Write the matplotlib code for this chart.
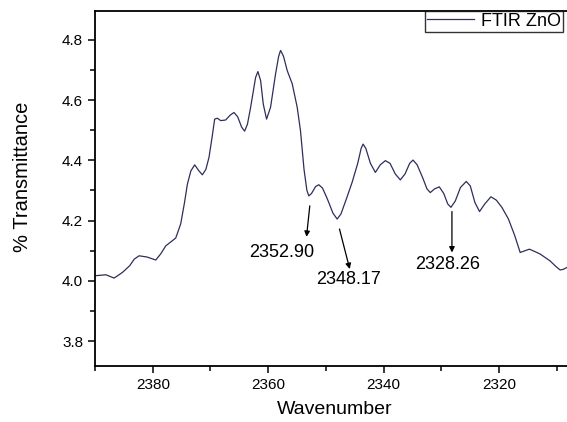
import matplotlib
matplotlib.use("Agg")
import matplotlib.pyplot as plt

plt.rcParams['font.family'] = ['Liberation Sans', 'DejaVu Sans']

# FTIR spectrum (wavenumber, % transmittance)
wavenumber = [2389.86, 2388.13, 2386.69, 2385.24, 2384.0, 2383.2, 2382.37,
              2381.0, 2379.48, 2378.6, 2377.75, 2376.02, 2375.16, 2374.5,
              2374.0, 2373.4, 2372.74, 2372.0, 2371.41, 2370.8, 2370.26,
              2369.7, 2369.28, 2368.8, 2368.24, 2367.38, 2366.6, 2365.94,
              2365.3, 2364.6, 2364.09, 2363.6, 2363.05, 2362.19, 2361.79,
              2361.32, 2360.86, 2360.29, 2359.6, 2358.73, 2358.2, 2357.87,
              2357.5, 2357.3, 2356.71, 2355.84, 2354.98, 2354.41, 2353.8,
              2353.3, 2352.97, 2352.5, 2351.8, 2351.24, 2350.6, 2349.9,
              2349.51, 2348.8, 2348.06, 2347.4, 2346.5, 2345.47, 2344.5,
              2343.9, 2343.57, 2343.1, 2342.3, 2341.44, 2340.6, 2339.71,
              2338.9, 2338.0, 2337.12, 2336.3, 2335.5, 2334.92, 2334.2,
              2333.2, 2332.5, 2331.93, 2331.2, 2330.37, 2329.6, 2328.9,
              2328.35, 2327.6, 2326.7, 2325.7, 2325.0, 2324.2, 2323.4,
              2322.5, 2321.43, 2320.5, 2319.53, 2318.39, 2317.3, 2316.36,
              2315.5, 2314.76, 2313.8, 2312.91, 2311.18, 2310.2, 2309.45,
              2308.9, 2308.29]
transmittance = [4.017, 4.020, 4.009, 4.028, 4.050, 4.072, 4.083,
                 4.079, 4.069, 4.090, 4.116, 4.142, 4.189, 4.260,
                 4.321, 4.365, 4.385, 4.365, 4.352, 4.370, 4.410,
                 4.480, 4.537, 4.540, 4.532, 4.534, 4.550, 4.559,
                 4.545, 4.510, 4.497, 4.520, 4.576, 4.675, 4.695,
                 4.665, 4.587, 4.537, 4.576, 4.687, 4.745, 4.765,
                 4.752, 4.742, 4.698, 4.654, 4.576, 4.498, 4.370,
                 4.300, 4.282, 4.290, 4.313, 4.319, 4.308, 4.278,
                 4.260, 4.225, 4.205, 4.222, 4.270, 4.327, 4.390,
                 4.440, 4.454, 4.440, 4.390, 4.360, 4.385, 4.399,
                 4.390, 4.355, 4.335, 4.355, 4.390, 4.401, 4.385,
                 4.340, 4.305, 4.293, 4.305, 4.312, 4.290, 4.255,
                 4.244, 4.265, 4.310, 4.330, 4.315, 4.260, 4.230,
                 4.255, 4.279, 4.268, 4.244, 4.205, 4.150, 4.094,
                 4.100, 4.105, 4.097, 4.089, 4.066, 4.048, 4.036,
                 4.038, 4.044]

# peak labels: text, arrow tail, arrow head, text position
peak_labels = ['2352.90', '2348.17', '2328.26']
arrow_tail = [(2352.80, 4.249), (2347.66, 4.172), (2328.18, 4.230)]
arrow_head = [(2353.37, 4.146), (2345.88, 4.039), (2328.18, 4.094)]
label_pos = [(2357.69, 4.093), (2346.02, 4.003), (2328.99, 4.055)]

x_major = [2380, 2360, 2340, 2320]
x_minor = [2390, 2370, 2350, 2330, 2310]
y_major = [3.8, 4.0, 4.2, 4.4, 4.6, 4.8]
y_minor = [3.9, 4.1, 4.3, 4.5, 4.7]

fig = plt.figure(figsize=(5.67, 4.22), dpi=100)
ax = fig.add_axes([0.1676, 0.1327, 0.9164, 0.8412])

ax.plot(wavenumber, transmittance, color='#2e2e5c', lw=0.9, label='FTIR ZnO')

for txt, tail, head, pos in zip(peak_labels, arrow_tail, arrow_head, label_pos):
    ax.annotate('', xy=head, xytext=tail,
                arrowprops=dict(arrowstyle='-|>', color='black', lw=0.9,
                                mutation_scale=8, shrinkA=0, shrinkB=0))
    ax.text(pos[0], pos[1], txt, ha='center', va='center', fontsize=13)

ax.set_xlim(2390, 2300)
ax.set_ylim(3.717, 4.896)
ax.set_xticks(x_major)
ax.set_xticks(x_minor, minor=True)
ax.set_yticks(y_major)
ax.set_yticks(y_minor, minor=True)
ax.tick_params(which='both', direction='out', top=False, right=False,
               labelsize=11, width=1.1)
ax.tick_params(which='major', length=5)
ax.tick_params(which='minor', length=3.5)
for s in ax.spines.values():
    s.set_linewidth(1.3)

ax.set_xlabel('Wavenumber', fontsize=14)
ax.set_ylabel('% Transmittance', fontsize=14.5)
ax.xaxis.set_label_coords(0.461, -0.099)
ax.yaxis.set_label_coords(-0.122, 0.532)

leg = ax.legend(loc='upper left', bbox_to_anchor=(425 / 567, 1 - 11 / 422),
                bbox_transform=fig.transFigure, fontsize=13, frameon=True,
                fancybox=False, borderaxespad=0, handlelength=2.6,
                borderpad=0.1, handletextpad=0.4)
leg.get_frame().set_edgecolor('black')
leg.get_frame().set_linewidth(1.0)

fig.savefig('out.png', dpi=100)
